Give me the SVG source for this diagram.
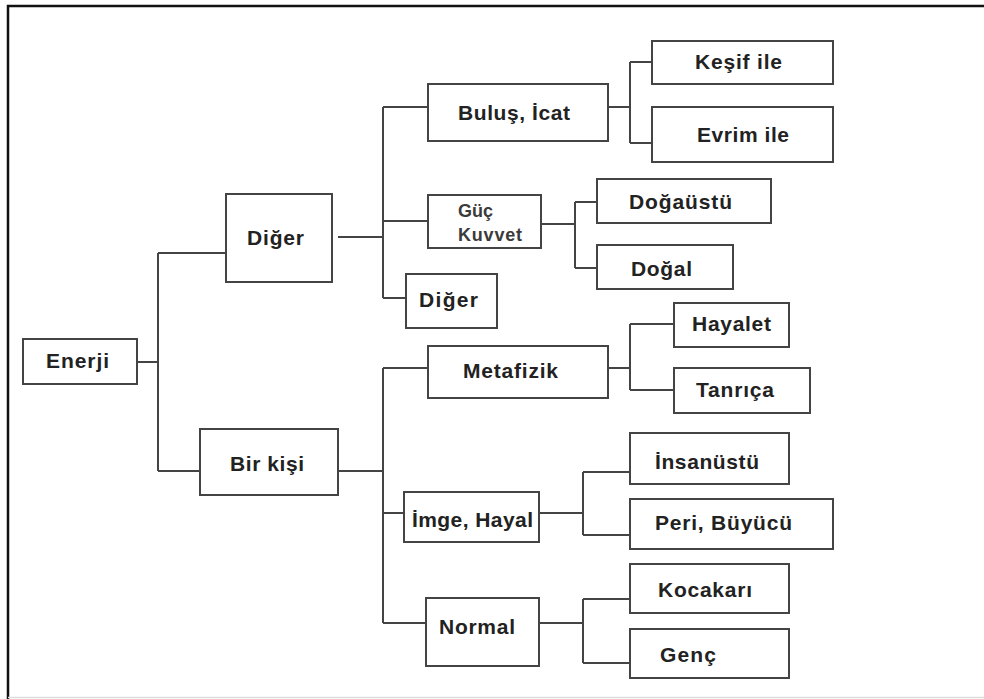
<svg xmlns="http://www.w3.org/2000/svg" width="984" height="699" viewBox="0 0 984 699">
<style>
.box{fill:#fff;stroke:#444;stroke-width:2}
.lbl{font-family:"Liberation Sans",Arial,sans-serif;font-weight:bold;font-size:21px;fill:#222}
.sm{font-family:"Liberation Sans",Arial,sans-serif;font-weight:bold;font-size:18px;fill:#3a3a3a}
.ln{fill:none;stroke:#444;stroke-width:2}
</style>
<rect x="0" y="0" width="984" height="699" fill="#fff"/>
<g id="frame">
<path d="M8,699 V6 H984" fill="none" stroke="#111" stroke-width="2.5"/>
<path d="M8,697.5 H984" fill="none" stroke="#ddd" stroke-width="1.5"/>
</g>
<g id="connectors" class="ln">
<path class="ln" d="M137,362 H158 M158,253 V471 M158,253 H226 M158,471 H200"/>
<path class="ln" d="M338,237 H383 M383,107 V298 M383,107 H428 M383,221 H428 M383,298 H406"/>
<path class="ln" d="M608,107 H630 M630,62 V143 M630,62 H652 M630,143 H652"/>
<path class="ln" d="M541,224 H575 M575,202 V268 M575,202 H597 M575,268 H597"/>
<path class="ln" d="M338,471 H383 M383,368 V623 M383,368 H428 M383,513 H404 M383,623 H426"/>
<path class="ln" d="M608,368 H630 M630,324 V390 M630,324 H674 M630,390 H674"/>
<path class="ln" d="M539,513 H583 M583,472 V535 M583,472 H630 M583,535 H630"/>
<path class="ln" d="M539,623 H583 M583,599 V663 M583,599 H630 M583,663 H630"/>
</g>
<g id="enerji"><rect class="box" x="23" y="339" width="114" height="45"/><text class="lbl" x="46" y="368" textLength="63" lengthAdjust="spacing">Enerji</text></g>
<g id="diger1"><rect class="box" x="226" y="194" width="106" height="88"/><text class="lbl" x="247" y="245" textLength="57" lengthAdjust="spacing">Diğer</text></g>
<g id="birkisi"><rect class="box" x="200" y="429" width="138" height="66"/><text class="lbl" x="230" y="471" textLength="74" lengthAdjust="spacing">Bir kişi</text></g>
<g id="bulus"><rect class="box" x="428" y="84" width="180" height="57"/><text class="lbl" x="458" y="120" textLength="112" lengthAdjust="spacing">Buluş, İcat</text></g>
<g id="guc"><rect class="box" x="428" y="195" width="113" height="53"/><text class="sm" x="458" y="217" textLength="35" lengthAdjust="spacing">Güç</text><text class="sm" x="458" y="241" textLength="64" lengthAdjust="spacing">Kuvvet</text></g>
<g id="diger2"><rect class="box" x="406" y="274" width="91" height="54"/><text class="lbl" x="419" y="307" textLength="59" lengthAdjust="spacing">Diğer</text></g>
<g id="kesif"><rect class="box" x="652" y="41" width="181" height="43"/><text class="lbl" x="695" y="69" textLength="87" lengthAdjust="spacing">Keşif ile</text></g>
<g id="evrim"><rect class="box" x="652" y="107" width="181" height="55"/><text class="lbl" x="697" y="142" textLength="92" lengthAdjust="spacing">Evrim ile</text></g>
<g id="dogaustu"><rect class="box" x="597" y="179" width="174" height="44"/><text class="lbl" x="629" y="209" textLength="103" lengthAdjust="spacing">Doğaüstü</text></g>
<g id="dogal"><rect class="box" x="597" y="245" width="136" height="44"/><text class="lbl" x="631" y="276" textLength="61" lengthAdjust="spacing">Doğal</text></g>
<g id="metafizik"><rect class="box" x="428" y="346" width="180" height="52"/><text class="lbl" x="463" y="378" textLength="95" lengthAdjust="spacing">Metafizik</text></g>
<g id="hayalet"><rect class="box" x="674" y="303" width="115" height="44"/><text class="lbl" x="692" y="331" textLength="79" lengthAdjust="spacing">Hayalet</text></g>
<g id="tanrica"><rect class="box" x="674" y="368" width="136" height="45"/><text class="lbl" x="696" y="397" textLength="78" lengthAdjust="spacing">Tanrıça</text></g>
<g id="imge"><rect class="box" x="404" y="492" width="135" height="50"/><text class="lbl" x="412" y="527" textLength="121" lengthAdjust="spacing">İmge, Hayal</text></g>
<g id="insanustu"><rect class="box" x="630" y="433" width="159" height="51"/><text class="lbl" x="655" y="469" textLength="104" lengthAdjust="spacing">İnsanüstü</text></g>
<g id="peri"><rect class="box" x="630" y="499" width="203" height="50"/><text class="lbl" x="655" y="530" textLength="137" lengthAdjust="spacing">Peri, Büyücü</text></g>
<g id="normal"><rect class="box" x="426" y="598" width="113" height="68"/><text class="lbl" x="439" y="634" textLength="76" lengthAdjust="spacing">Normal</text></g>
<g id="kocakari"><rect class="box" x="630" y="564" width="159" height="49"/><text class="lbl" x="658" y="597" textLength="94" lengthAdjust="spacing">Kocakarı</text></g>
<g id="genc"><rect class="box" x="630" y="629" width="159" height="49"/><text class="lbl" x="660" y="662" textLength="56" lengthAdjust="spacing">Genç</text></g>
</svg>
